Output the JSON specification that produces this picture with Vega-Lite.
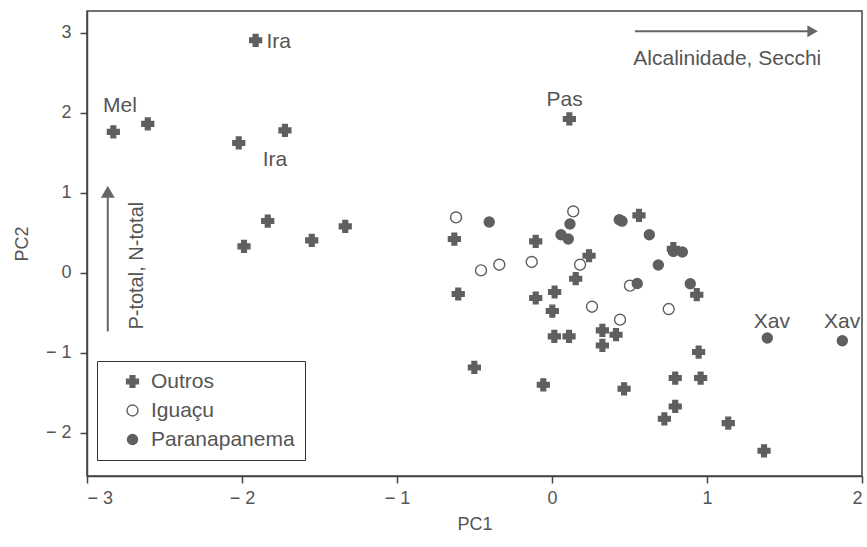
{
  "$schema": "https://vega.github.io/schema/vega-lite/v6.json",
  "width": 775,
  "height": 465,
  "autosize": {"type": "none"},
  "padding": {"left": 87, "top": 11, "right": 5, "bottom": 71},
  "background": "white",
  "config": {
    "font": "Liberation Sans",
    "view": {"stroke": "#444", "strokeWidth": 1.5},
    "axis": {
      "grid": false,
      "domainColor": "#444",
      "domainWidth": 1.5,
      "tickColor": "#444",
      "tickWidth": 1.5,
      "tickSize": 7,
      "labelFont": "Liberation Sans",
      "labelFontSize": 18,
      "labelColor": "#555",
      "titleFont": "Liberation Sans",
      "titleFontSize": 18,
      "titleFontWeight": "normal",
      "titleColor": "#555"
    }
  },
  "layer": [
    {
      "data": {
        "values": [
          {"group": "Outros", "pc1": -1.912, "pc2": 2.904},
          {"group": "Outros", "pc1": -2.830, "pc2": 1.759},
          {"group": "Outros", "pc1": -2.608, "pc2": 1.859},
          {"group": "Outros", "pc1": -2.021, "pc2": 1.621},
          {"group": "Outros", "pc1": -1.723, "pc2": 1.779},
          {"group": "Outros", "pc1": -1.834, "pc2": 0.646},
          {"group": "Outros", "pc1": -1.987, "pc2": 0.329},
          {"group": "Outros", "pc1": -1.550, "pc2": 0.404},
          {"group": "Outros", "pc1": -1.334, "pc2": 0.579},
          {"group": "Outros", "pc1": -0.630, "pc2": 0.421},
          {"group": "Outros", "pc1": 0.112, "pc2": 1.921},
          {"group": "Outros", "pc1": -0.105, "pc2": 0.391},
          {"group": "Outros", "pc1": 0.239, "pc2": 0.212},
          {"group": "Outros", "pc1": 0.561, "pc2": 0.716},
          {"group": "Outros", "pc1": 0.153, "pc2": -0.075},
          {"group": "Outros", "pc1": -0.605, "pc2": -0.266},
          {"group": "Outros", "pc1": -0.105, "pc2": -0.316},
          {"group": "Outros", "pc1": 0.017, "pc2": -0.241},
          {"group": "Outros", "pc1": 0.002, "pc2": -0.479},
          {"group": "Outros", "pc1": 0.015, "pc2": -0.796},
          {"group": "Outros", "pc1": 0.110, "pc2": -0.796},
          {"group": "Outros", "pc1": 0.325, "pc2": -0.721},
          {"group": "Outros", "pc1": 0.413, "pc2": -0.775},
          {"group": "Outros", "pc1": 0.325, "pc2": -0.909},
          {"group": "Outros", "pc1": 0.934, "pc2": -0.275},
          {"group": "Outros", "pc1": -0.501, "pc2": -1.184},
          {"group": "Outros", "pc1": -0.056, "pc2": -1.400},
          {"group": "Outros", "pc1": 0.465, "pc2": -1.450},
          {"group": "Outros", "pc1": 0.946, "pc2": -0.991},
          {"group": "Outros", "pc1": 0.795, "pc2": -1.316},
          {"group": "Outros", "pc1": 0.959, "pc2": -1.316},
          {"group": "Outros", "pc1": 0.795, "pc2": -1.671},
          {"group": "Outros", "pc1": 0.725, "pc2": -1.825},
          {"group": "Outros", "pc1": 1.137, "pc2": -1.879},
          {"group": "Outros", "pc1": 1.368, "pc2": -2.225},
          {"group": "Iguaçu", "pc1": -0.619, "pc2": 0.691},
          {"group": "Iguaçu", "pc1": 0.137, "pc2": 0.766},
          {"group": "Iguaçu", "pc1": -0.458, "pc2": 0.029},
          {"group": "Iguaçu", "pc1": -0.340, "pc2": 0.100},
          {"group": "Iguaçu", "pc1": -0.131, "pc2": 0.134},
          {"group": "Iguaçu", "pc1": 0.181, "pc2": 0.100},
          {"group": "Iguaçu", "pc1": 0.503, "pc2": -0.162},
          {"group": "Iguaçu", "pc1": 0.258, "pc2": -0.425},
          {"group": "Iguaçu", "pc1": 0.439, "pc2": -0.587},
          {"group": "Iguaçu", "pc1": 0.753, "pc2": -0.454},
          {"group": "Paranapanema", "pc1": -0.405, "pc2": 0.634},
          {"group": "Paranapanema", "pc1": 0.116, "pc2": 0.609},
          {"group": "Paranapanema", "pc1": 0.058, "pc2": 0.475},
          {"group": "Paranapanema", "pc1": 0.105, "pc2": 0.421},
          {"group": "Paranapanema", "pc1": 0.434, "pc2": 0.662},
          {"group": "Paranapanema", "pc1": 0.452, "pc2": 0.644},
          {"group": "Paranapanema", "pc1": 0.628, "pc2": 0.475},
          {"group": "Paranapanema", "pc1": 0.783, "pc2": 0.266},
          {"group": "Paranapanema", "pc1": 0.841, "pc2": 0.259},
          {"group": "Paranapanema", "pc1": 0.686, "pc2": 0.096},
          {"group": "Paranapanema", "pc1": 0.550, "pc2": -0.134},
          {"group": "Paranapanema", "pc1": 0.892, "pc2": -0.137},
          {"group": "Paranapanema", "pc1": 1.389, "pc2": -0.816},
          {"group": "Paranapanema", "pc1": 1.873, "pc2": -0.850},
          {"group": "Outros", "pc1": 0.783, "pc2": 0.300}
        ]
      },
      "mark": {"type": "point", "filled": true, "stroke": "#5f5f5f", "strokeWidth": 1.4, "opacity": 1},
      "encoding": {
        "x": {
          "field": "pc1", "type": "quantitative", "title": "PC1",
          "scale": {"domain": [-3, 2], "nice": false, "zero": false},
          "axis": {
            "values": [-3, -2, -1, 0, 1, 2],
            "labelPadding": 6,
            "titlePadding": 8,
            "labelExpr": "datum.value < 0 ? '− ' + format(-datum.value, 'd') : format(datum.value, 'd')"
          }
        },
        "y": {
          "field": "pc2", "type": "quantitative", "title": "PC2",
          "scale": {"domain": [-2.54, 3.27], "nice": false, "zero": false},
          "axis": {
            "values": [-2, -1, 0, 1, 2, 3],
            "labelPadding": 9,
            "titlePadding": 14,
            "labelExpr": "datum.value < 0 ? '− ' + format(-datum.value, 'd') : format(datum.value, 'd')"
          }
        },
        "fill": {
          "field": "group", "type": "nominal", "title": null,
          "scale": {"domain": ["Outros", "Iguaçu", "Paranapanema"], "range": ["#5f5f5f", "white", "#5f5f5f"]},
          "legend": {
            "orient": "none", "legendX": 10, "legendY": 350,
            "padding": 10, "symbolOffset": 15, "rowPadding": 7, "labelOffset": 8,
            "labelFontSize": 21, "labelColor": "#555", "labelFont": "Liberation Sans",
            "strokeColor": "#333", "fillColor": "white",
            "symbolStrokeColor": "#5f5f5f", "symbolStrokeWidth": 1.4,
            "labelExpr": "datum.label + '\u00a0\u00a0\u00a0\u00a0\u00a0'"
          }
        },
        "shape": {
          "field": "group", "type": "nominal", "title": null,
          "scale": {"domain": ["Outros", "Iguaçu", "Paranapanema"], "range": ["cross", "circle", "circle"]}
        },
        "size": {
          "field": "group", "type": "nominal", "title": null,
          "scale": {"domain": ["Outros", "Iguaçu", "Paranapanema"], "range": [140, 100, 110]}
        }
      }
    },
    {
      "data": {
        "values": [
          {"label": "Ira", "pc1": -1.763, "pc2": 2.809},
          {"label": "Mel", "pc1": -2.787, "pc2": 2.009},
          {"label": "Ira", "pc1": -1.787, "pc2": 1.337},
          {"label": "Pas", "pc1": 0.082, "pc2": 2.079},
          {"label": "Xav", "pc1": 1.419, "pc2": -0.691},
          {"label": "Xav", "pc1": 1.872, "pc2": -0.691},
          {"label": "Alcalinidade, Secchi", "pc1": 1.131, "pc2": 2.6}
        ]
      },
      "mark": {"type": "text", "fontSize": 21, "color": "#555", "align": "center", "baseline": "alphabetic", "font": "Liberation Sans"},
      "encoding": {
        "x": {"field": "pc1", "type": "quantitative", "title": "PC1"},
        "y": {"field": "pc2", "type": "quantitative", "title": "PC2"},
        "text": {"field": "label"}
      }
    },
    {
      "data": {"values": [{"label": "P-total, N-total", "pc1": -2.637, "pc2": 0.0875}]},
      "mark": {"type": "text", "fontSize": 20, "color": "#555", "align": "center", "baseline": "alphabetic", "angle": 270, "font": "Liberation Sans"},
      "encoding": {
        "x": {"field": "pc1", "type": "quantitative", "title": "PC1"},
        "y": {"field": "pc2", "type": "quantitative", "title": "PC2"},
        "text": {"field": "label"}
      }
    },
    {
      "data": {
        "values": [
          {"pc1": 0.535, "pc1_end": 1.66, "pc2": 3.016, "pc2_end": 3.016},
          {"pc1": -2.866, "pc1_end": -2.866, "pc2": -0.734, "pc2_end": 0.95}
        ]
      },
      "mark": {"type": "rule", "color": "#666", "strokeWidth": 2},
      "encoding": {
        "x": {"field": "pc1", "type": "quantitative", "title": "PC1"},
        "x2": {"field": "pc1_end"},
        "y": {"field": "pc2", "type": "quantitative", "title": "PC2"},
        "y2": {"field": "pc2_end"}
      }
    },
    {
      "data": {"values": [{"pc1": 1.681, "pc2": 3.016}]},
      "mark": {"type": "point", "shape": "triangle-right", "filled": true, "color": "#666", "size": 144, "opacity": 1},
      "encoding": {
        "x": {"field": "pc1", "type": "quantitative", "title": "PC1"},
        "y": {"field": "pc2", "type": "quantitative", "title": "PC2"}
      }
    },
    {
      "data": {"values": [{"pc1": -2.866, "pc2": 1.0125}]},
      "mark": {"type": "point", "shape": "triangle-up", "filled": true, "color": "#666", "size": 190, "opacity": 1},
      "encoding": {
        "x": {"field": "pc1", "type": "quantitative", "title": "PC1"},
        "y": {"field": "pc2", "type": "quantitative", "title": "PC2"}
      }
    }
  ]
}
